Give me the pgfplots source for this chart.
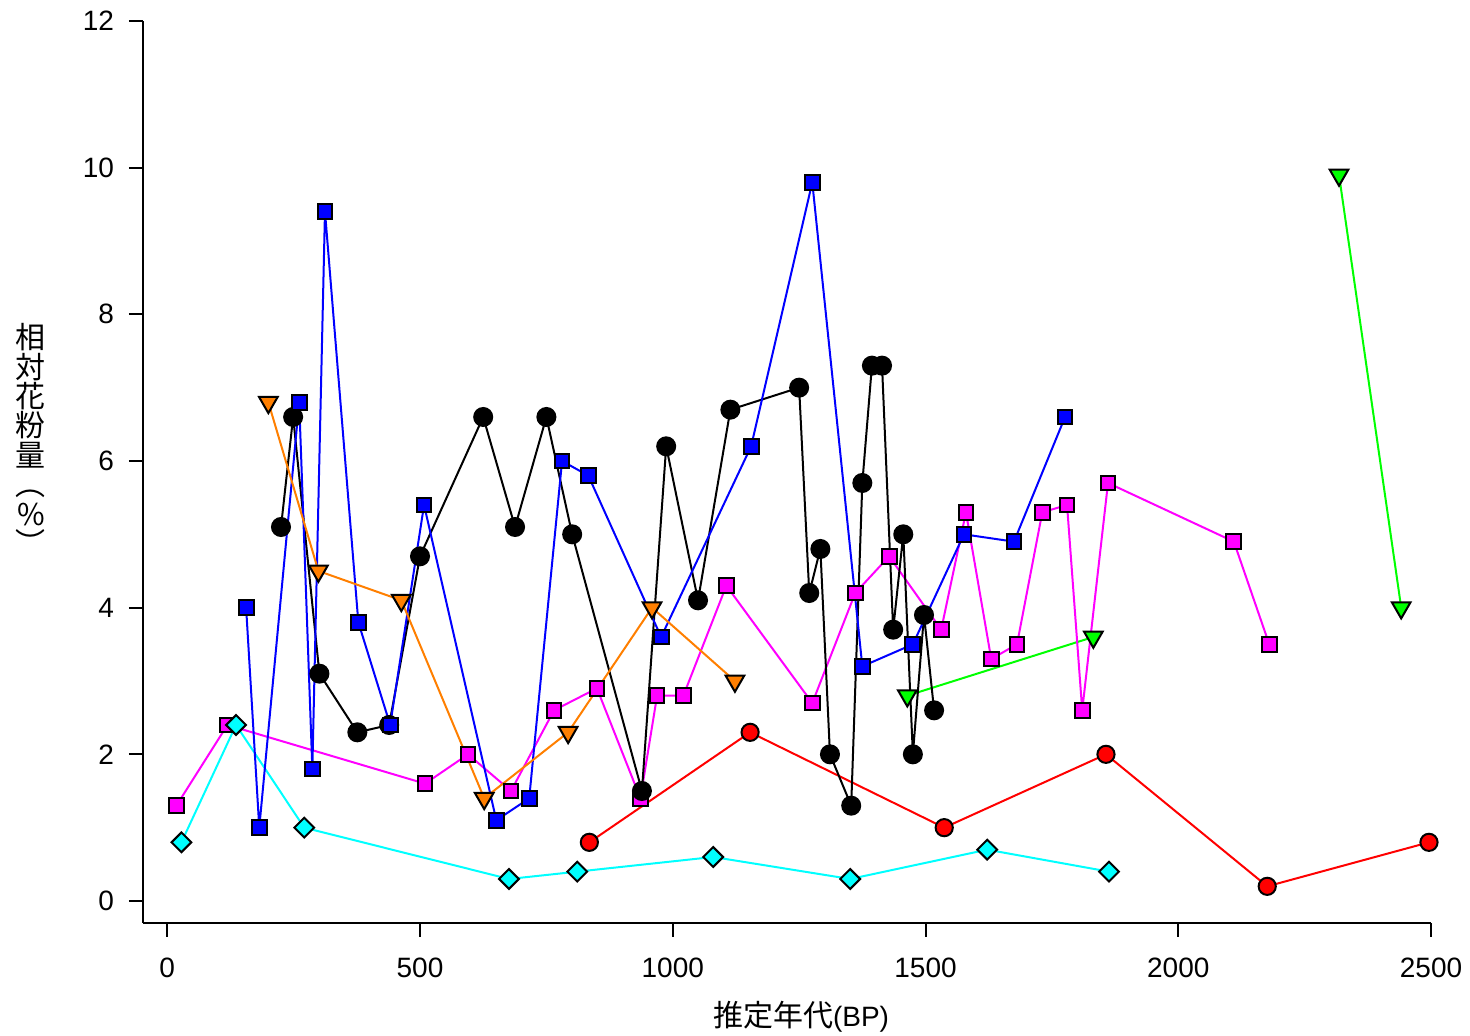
\documentclass[border=0pt]{standalone}
\usepackage{pgfplots}
\pgfplotsset{compat=1.18}
\usepackage{fontspec}
\setmainfont{Liberation Sans}
\newfontfamily\cjk{Noto Sans CJK JP}
\definecolor{cOrange}{RGB}{255,127,0}
\definecolor{cMag}{RGB}{255,0,255}
\definecolor{cCyan}{RGB}{0,255,255}
\definecolor{cGreen}{RGB}{0,255,0}
\definecolor{cRed}{RGB}{255,0,0}
\definecolor{cBlue}{RGB}{0,0,255}
\begin{document}
\begin{tikzpicture}
\begin{axis}[
  scale only axis,
  width=644pt, height=451pt,
  xmin=-48, xmax=2500,
  ymin=-0.3, ymax=12,
  axis lines*=left,
  axis line style={line width=1pt, -},
  tick align=outside,
  major tick length=7pt,
  tick style={black, line width=1pt},
  xtick={0,500,1000,1500,2000,2500},
  ytick={0,2,4,6,8,10,12},
  minor tick num=0,
  /pgf/number format/1000 sep={},
  /pgf/number format/assume math mode=true,
  tick label style={font=\fontsize{14}{16}\selectfont},
  yticklabel style={xshift=-4pt},
  xticklabel style={yshift=-7pt},
  clip=false,
  every axis plot/.append style={line width=1pt},
]
% green
\addplot[color=cGreen, mark=triangle*, mark size=5.4pt, mark options={rotate=180, draw=black, fill=cGreen, line width=1pt}]
  coordinates {(1464,2.8) (1832,3.6)};
\addplot[color=cGreen, mark=triangle*, mark size=5.4pt, mark options={rotate=180, draw=black, fill=cGreen, line width=1pt}]
  coordinates {(2318,9.9) (2441,4.0)};
% magenta
\addplot[color=cMag, mark=square*, mark size=3.7pt, mark options={draw=black, fill=cMag, line width=1pt}]
  coordinates {(18,1.3) (119,2.4) (510,1.6) (595,2.0) (680,1.5) (765,2.6) (850,2.9) (936,1.4) (969,2.8) (1021,2.8) (1106,4.3) (1276,2.7) (1361,4.2) (1428,4.7) (1531,3.7) (1580,5.3) (1630,3.3) (1681,3.5) (1731,5.3) (1780,5.4) (1810,2.6) (1861,5.7) (2110,4.9) (2180,3.5)};
% cyan
\addplot[color=cCyan, mark=square*, mark size=3.5pt, mark options={rotate=45, draw=black, fill=cCyan, line width=1pt}]
  coordinates {(28,0.8) (136,2.4) (271,1.0) (676,0.3) (811,0.4) (1080,0.6) (1351,0.3) (1622,0.7) (1863,0.4)};
% red
\addplot[color=cRed, mark=*, mark size=4.3pt, mark options={draw=black, fill=cRed, line width=1pt}]
  coordinates {(835,0.8) (1153,2.3) (1537,1.0) (1857,2.0) (2176,0.2) (2496,0.8)};
% black
\addplot[color=black, mark=*, mark size=4.5pt, mark options={draw=black, fill=black}]
  coordinates {(225,5.1) (249,6.6) (301,3.1) (376,2.3) (439,2.4) (500,4.7) (625,6.6) (688,5.1) (750,6.6) (801,5.0) (939,1.5) (987,6.2) (1050,4.1) (1114,6.7) (1250,7.0) (1270,4.2) (1292,4.8) (1311,2.0) (1353,1.3) (1375,5.7) (1394,7.3) (1414,7.3) (1436,3.7) (1456,5.0) (1475,2.0) (1497,3.9) (1517,2.6)};
% blue
\addplot[color=cBlue, mark=square*, mark size=3.7pt, mark options={draw=black, fill=cBlue, line width=1pt}]
  coordinates {(156,4.0) (182,1.0) (261,6.8) (287,1.8) (312,9.4) (378,3.8) (441,2.4) (508,5.4) (651,1.1) (716,1.4) (781,6.0) (833,5.8) (977,3.6) (1155,6.2) (1276,9.8) (1375,3.2) (1475,3.5) (1576,5.0) (1675,4.9) (1776,6.6)};
% orange
\addplot[color=cOrange, mark=triangle*, mark size=5.4pt, mark options={rotate=180, draw=black, fill=cOrange, line width=1pt}]
  coordinates {(200,6.8) (299,4.5) (463,4.1) (627,1.4) (793,2.3) (959,4.0) (1123,3.0)};
\end{axis}
\node[font=\cjk\fontsize{15}{14.7}\selectfont, align=center, inner sep=0pt] at ([shift={(-56pt,242pt)}]current axis.south west) {相\\対\\花\\粉\\量\\︵\\\%\\︶};
\node[font=\fontsize{14}{16}\selectfont, inner sep=0pt] at ([shift={(329pt,-47pt)}]current axis.south west) {{\cjk\fontsize{15}{16}\selectfont 推定年代}(BP)};
\pgfresetboundingbox
\path ([shift={(-71.5pt,-56.5pt)}]current axis.south west) rectangle ++(735pt,518pt);
\end{tikzpicture}
\end{document}
